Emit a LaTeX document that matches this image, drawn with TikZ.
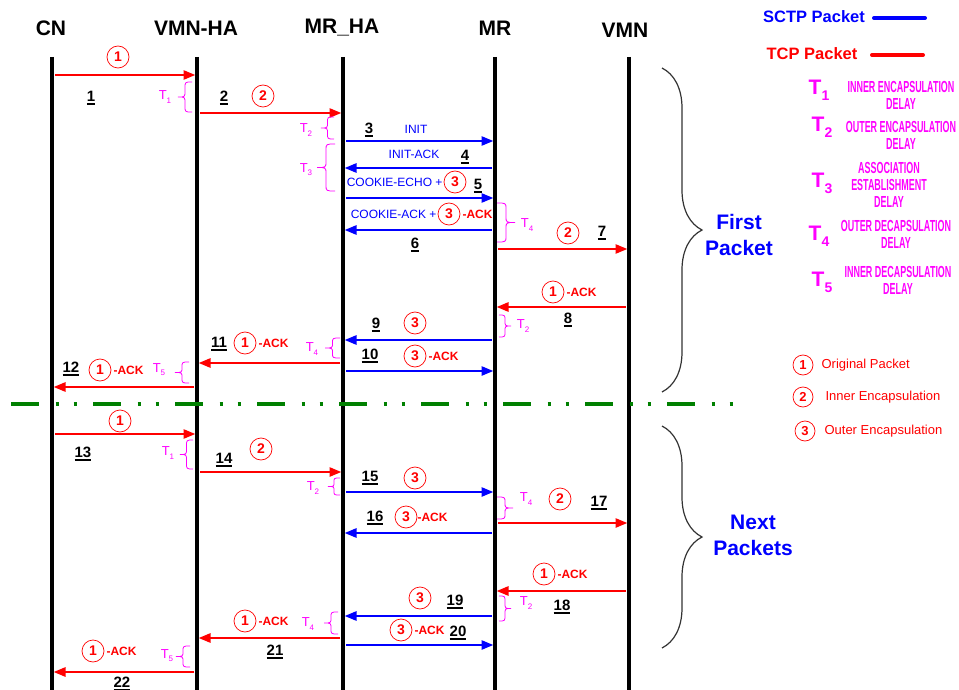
\documentclass[tikz,border=0pt]{standalone}
\usepackage{fontspec}
\setmainfont{Liberation Sans}
\newfontfamily\narrowfont[FakeStretch=0.56]{Liberation Sans}
\usetikzlibrary{arrows.meta, positioning, calc, decorations.pathreplacing}
\definecolor{sctpblue}{RGB}{0, 0, 255}
\definecolor{tcpred}{RGB}{255, 0, 0}
\definecolor{delaypink}{RGB}{255, 0, 255}
\definecolor{sepgreen}{RGB}{0, 128, 0}
\newcommand{\fsz}[1]{\fontsize{#1}{#1}\selectfont}
\newcommand{\tsub}[1]{T\raisebox{-0.45ex}{\fsz{8}#1}}
\newcommand{\tbig}[1]{T\raisebox{-0.55ex}{\fsz{14}#1}}
\newcommand{\stepno}[1]{\setbox0=\hbox{#1}\rlap{\copy0}\rule[-3.5pt]{\wd0}{1.5pt}}
% small delay brace: x of the ends, top, bottom, signed width (negative = tip to the left)
\newcommand{\delaybrace}[4]{%
  \pgfmathsetmacro{\dbmid}{(#2+#3)/2}%
  \pgfmathsetmacro{\dbcurl}{min(6,(#3-#2)/4)}%
  \pgfmathsetmacro{\dbbody}{#1+(#4)/2}%
  \pgfmathsetmacro{\dbtip}{#1+(#4)}%
  \draw[dbrace] (#1,#2) .. controls (\dbbody,#2) .. (\dbbody,#2+\dbcurl)
    -- (\dbbody,\dbmid-\dbcurl) .. controls (\dbbody,\dbmid) .. (\dbtip,\dbmid)
    .. controls (\dbbody,\dbmid) .. (\dbbody,\dbmid+\dbcurl)
    -- (\dbbody,#3-\dbcurl) .. controls (\dbbody,#3) .. (#1,#3);}

\begin{document}
\begin{tikzpicture}[x=1pt, y=-1pt,
    head/.style={font=\bfseries\fsz{21}},
    life/.style={line width=3.2pt},
    tcp/.style={line width=2.6pt, tcpred, -{Triangle[length=12pt, width=9pt]},
                shorten <=3pt, shorten >=1.5pt},
    sctp/.style={tcp, sctpblue},
    num/.style={font=\bfseries\fsz{15}, inner sep=1pt},
    circ/.style={circle, draw=tcpred, line width=0.7pt, text=tcpred,
                 font=\bfseries\fsz{14}, minimum size=22pt, inner sep=0pt},
    ack/.style={text=tcpred, font=\bfseries\fsz{12}, inner sep=0pt},
    chunk/.style={text=sctpblue, font=\fsz{12}, inner sep=0pt},
    dly/.style={text=delaypink, font=\fsz{13}, inner sep=0pt},
    dbrace/.style={delaypink, line width=0.8pt},
    bigbrace/.style={decorate, decoration={brace, amplitude=40pt}, black!80, line width=1.2pt},
    phase/.style={text=sctpblue, font=\bfseries\fontsize{21}{26}\selectfont, align=center},
    sep/.style={sepgreen, line width=4pt,
                dash pattern=on 28pt off 16.5pt on 3pt off 15pt on 3pt off 16.5pt},
    keyline/.style={line width=4pt, line cap=round},
    keyt/.style={text=delaypink, font=\bfseries\fsz{21}, inner sep=0pt},
    keytxt/.style={text=delaypink, font=\narrowfont\bfseries\fontsize{16}{17}\selectfont, align=center, inner sep=0pt},
    keycirc/.style={circ, minimum size=20pt, font=\bfseries\fsz{13}},
    keydesc/.style={text=tcpred, font=\fsz{13}, inner sep=0pt}
]
\useasboundingbox (0,0) rectangle (959,690);

% Lifelines
\foreach \n/\x in {cn/52, vmnha/197, mrha/343, mr/495, vmn/629}{
  \coordinate (\n) at (\x,57);
  \coordinate (\n-end) at (\x,690);
  \draw[life] (\n) -- (\n-end);
}
\node[head] (hcn)    at (51,28)  {CN};
\node[head] (hvmnha) at (196,28) {VMN-HA};
\node[head] (hmrha)  at (342,28) {MR\_HA};
\node[head] (hmr)    at (495,28) {MR};
\node[head] (hvmn)   at (625,30) {VMN};

% Separator
\coordinate (sep-a) at (11,404);
\coordinate (sep-b) at (735,404);
\draw[sep] (sep-a) -- (sep-b);

% Messages
\foreach \i/\a/\b/\y/\k in {1/cn/vmnha/75/tcp, 2/vmnha/mrha/113/tcp, 3/mrha/mr/141/sctp,
    4/mr/mrha/168/sctp, 5/mrha/mr/198/sctp, 6/mr/mrha/230/sctp, 7/mr/vmn/249/tcp,
    8/vmn/mr/307/tcp, 9/mr/mrha/340/sctp, 10/mrha/mr/371/sctp, 11/mrha/vmnha/363/tcp,
    12/vmnha/cn/387/tcp, 13/cn/vmnha/434/tcp, 14/vmnha/mrha/472/tcp, 15/mrha/mr/492/sctp,
    16/mr/mrha/533/sctp, 17/mr/vmn/523/tcp, 18/vmn/mr/591/tcp, 19/mr/mrha/616/sctp,
    20/mrha/mr/645/sctp, 21/mrha/vmnha/638/tcp, 22/vmnha/cn/672/tcp}{
  \coordinate (s\i) at (\a |- 0,\y);
  \coordinate (e\i) at (\b |- 0,\y);
  \draw[\k] (s\i) -- (e\i);
}

% First packet
\node[circ] (c1) at (118,57) {1};
\node[num] (n1) at (91,98) {\stepno{1}};
\node[num] (n2) at (224,98) {\stepno{2}};
\node[circ] (c2) at (263,96) {2};
\node[num] (n3) at (369,130) {\stepno{3}};
\node[chunk] (t3) at (416,129) {INIT};
\node[chunk] (t4) at (414,154) {INIT-ACK};
\node[num] (n4) at (465,157) {\stepno{4}};
\node[circ] (c5) at (455,182) {3};
\node[chunk, left=1pt of c5] (t5) {COOKIE-ECHO +};
\node[num] (n5) at (478,186) {\stepno{5}};
\node[circ] (c6) at (449,214) {3};
\node[chunk, left=1pt of c6] (t6) {COOKIE-ACK +};
\node[ack, right=2pt of c6] (a6) {-ACK};
\node[num] (n6) at (415,245) {\stepno{6}};
\node[circ] (c7) at (568,233) {2};
\node[num] (n7) at (602,233) {\stepno{7}};
\node[circ] (c8) at (553,292) {1};
\node[ack, right=2pt of c8] (a8) {-ACK};
\node[num] (n8) at (568,320) {\stepno{8}};
\node[num] (n9) at (376,325) {\stepno{9}};
\node[circ] (c9) at (415,323) {3};
\node[num] (n10) at (370,356) {\stepno{10}};
\node[circ] (c10) at (415,356) {3};
\node[ack, right=2pt of c10] (a10) {-ACK};
\node[num] (n11) at (219,344) {\stepno{11}};
\node[circ] (c11) at (245,343) {1};
\node[ack, right=2pt of c11] (a11) {-ACK};
\node[num] (n12) at (71,369) {\stepno{12}};
\node[circ] (c12) at (100,370) {1};
\node[ack, right=2pt of c12] (a12) {-ACK};

% Next packets
\node[circ] (c13) at (120,421) {1};
\node[num] (n13) at (83,454) {\stepno{13}};
\node[num] (n14) at (224,460) {\stepno{14}};
\node[circ] (c14) at (261,449) {2};
\node[num] (n15) at (370,478) {\stepno{15}};
\node[circ] (c15) at (415,478) {3};
\node[num] (n16) at (375,518) {\stepno{16}};
\node[circ] (c16) at (406,517) {3};
\node[ack, right=0pt of c16] (a16) {-ACK};
\node[circ] (c17) at (560,499) {2};
\node[num] (n17) at (599,503) {\stepno{17}};
\node[circ] (c18) at (544,574) {1};
\node[ack, right=2pt of c18] (a18) {-ACK};
\node[num] (n18) at (562,607) {\stepno{18}};
\node[circ] (c19) at (420,598) {3};
\node[num] (n19) at (455,602) {\stepno{19}};
\node[circ] (c20) at (401,630) {3};
\node[ack, right=2pt of c20] (a20) {-ACK};
\node[num] (n20) at (458,633) {\stepno{20}};
\node[circ] (c21) at (245,621) {1};
\node[ack, right=2pt of c21] (a21) {-ACK};
\node[num] (n21) at (275,652) {\stepno{21}};
\node[circ] (c22) at (93,651) {1};
\node[ack, right=2pt of c22] (a22) {-ACK};
\node[num] (n22) at (122,684) {\stepno{22}};

% Delays
\delaybrace{192}{82}{112}{-14}
\node[dly] (d1) at (165,97) {\tsub{1}};
\delaybrace{334}{117}{139}{-13}
\node[dly] (d2) at (306,130) {\tsub{2}};
\delaybrace{335}{144}{191}{-18}
\node[dly] (d3) at (306,170) {\tsub{3}};
\delaybrace{497}{203}{242}{18}
\node[dly] (d4) at (527,225) {\tsub{4}};
\delaybrace{499}{315}{337}{12}
\node[dly] (d5) at (523,326) {\tsub{2}};
\delaybrace{340}{338}{358}{-15}
\node[dly] (d6) at (312,349) {\tsub{4}};
\delaybrace{189}{362}{383}{-14}
\node[dly] (d7) at (159,370) {\tsub{5}};
\delaybrace{193}{440}{469}{-13}
\node[dly] (d8) at (168,453) {\tsub{1}};
\delaybrace{340}{478}{495}{-12}
\node[dly] (d9) at (313,488) {\tsub{2}};
\delaybrace{497}{497}{519}{16}
\node[dly] (d10) at (526,499) {\tsub{4}};
\delaybrace{499}{596}{621}{12}
\node[dly] (d11) at (526,603) {\tsub{2}};
\delaybrace{338}{612}{634}{-14}
\node[dly] (d12) at (308,624) {\tsub{4}};
\delaybrace{190}{646}{667}{-14}
\node[dly] (d13) at (167,656) {\tsub{5}};

% Phases
\draw[bigbrace] (662,68) -- (662,392);
\node[phase] (first) at (739,235) {First\\Packet};
\draw[bigbrace] (662,426) -- (662,648);
\node[phase] (next) at (753,535) {Next\\Packets};

% Legend
\node[text=sctpblue, font=\bfseries\fsz{16.5}, inner sep=0pt] (ksctp) at (814,17) {SCTP Packet};
\coordinate (ksctp-a) at (874,18);
\coordinate (ksctp-b) at (925,18);
\draw[keyline, sctpblue] (ksctp-a) -- (ksctp-b);
\node[text=tcpred, font=\bfseries\fsz{16.5}, inner sep=0pt] (ktcp) at (812,54) {TCP Packet};
\coordinate (ktcp-a) at (872,55);
\coordinate (ktcp-b) at (923,55);
\draw[keyline, tcpred] (ktcp-a) -- (ktcp-b);

\node[keyt] (kt1) at (819,90) {\tbig{1}};
\node[keytxt] (kd1) at (901,95) {INNER ENCAPSULATION\\DELAY};
\node[keyt] (kt2) at (822,127) {\tbig{2}};
\node[keytxt] (kd2) at (901,135) {OUTER ENCAPSULATION\\DELAY};
\node[keyt] (kt3) at (822,183) {\tbig{3}};
\node[keytxt] (kd3) at (889,185) {ASSOCIATION\\ESTABLISHMENT\\DELAY};
\node[keyt] (kt4) at (819,236) {\tbig{4}};
\node[keytxt] (kd4) at (896,234) {OUTER DECAPSULATION\\DELAY};
\node[keyt] (kt5) at (822,282) {\tbig{5}};
\node[keytxt] (kd5) at (898,280) {INNER DECAPSULATION\\DELAY};

\node[keycirc] (k1) at (803,365) {1};
\node[keydesc, right=8pt of k1] (kp1) {Original Packet};
\node[keycirc] (k2) at (803,397) {2};
\node[keydesc, right=12pt of k2] (kp2) {Inner Encapsulation};
\node[keycirc] (k3) at (805,431) {3};
\node[keydesc, right=9pt of k3] (kp3) {Outer Encapsulation};

\end{tikzpicture}
\end{document}
